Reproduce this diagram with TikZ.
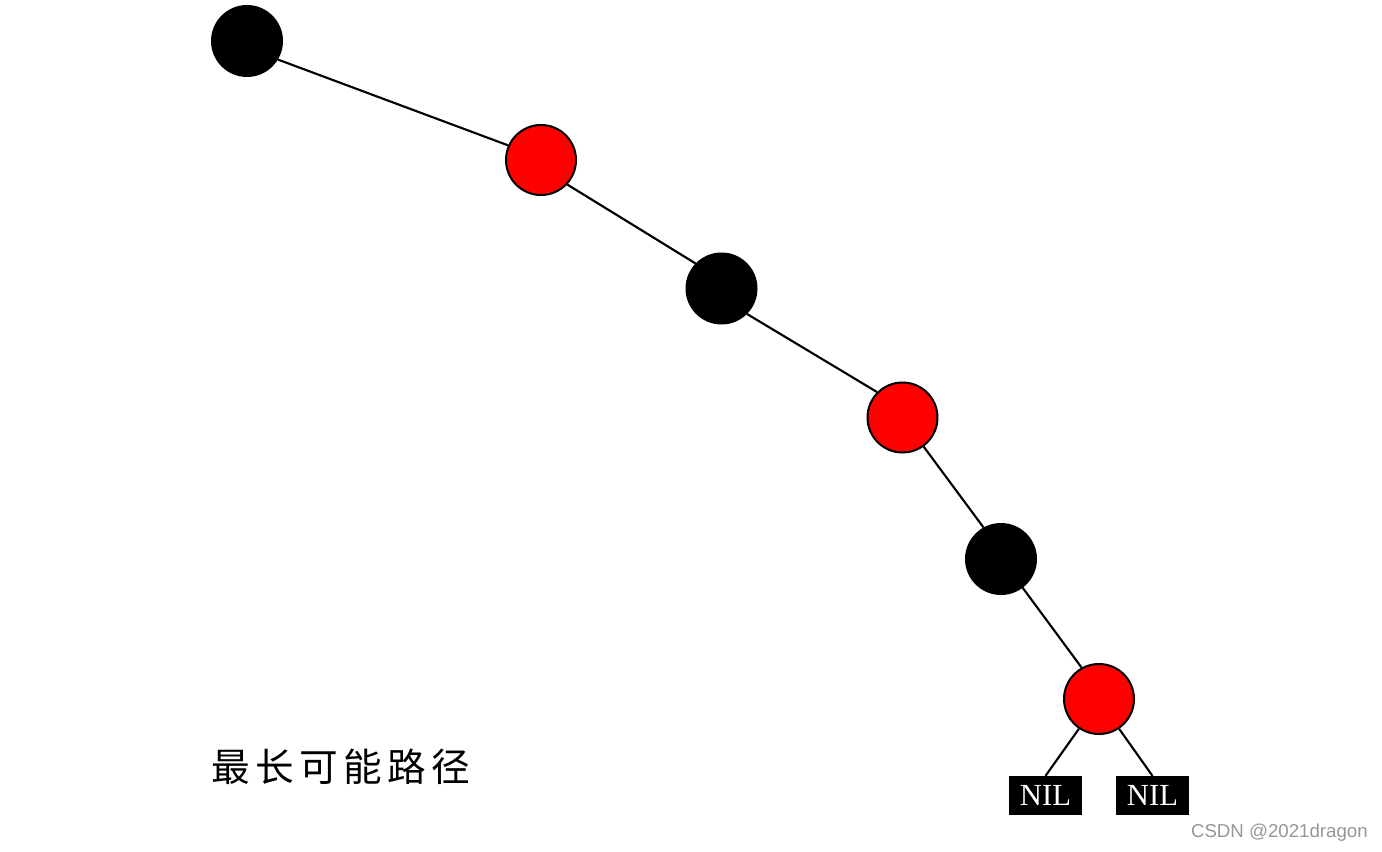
\documentclass[tikz,border=0pt]{standalone}
\usepackage{fontspec}
\setmainfont{Liberation Serif}
\newfontfamily\cjkfont[LetterSpace=14]{Noto Sans CJK SC}
\newfontfamily\wmfont{Liberation Sans}
\definecolor{rbred}{RGB}{255,0,0}
\definecolor{wmgray}{RGB}{150,150,150}
\begin{document}
\begin{tikzpicture}[x=0.75pt,y=-0.75pt,
  blacknode/.style={circle,fill=black,draw=black,line width=1.5pt,minimum size=52.5pt,inner sep=0pt},
  rednode/.style={circle,fill=rbred,draw=black,line width=1.5pt,minimum size=52.5pt,inner sep=0pt},
  nilbox/.style={rectangle,fill=black,text=white,minimum width=54.75pt,minimum height=29pt,inner sep=0pt,font=\fontsize{23}{23}\selectfont},
  edge/.style={line width=1.6pt,draw=black}]
\useasboundingbox (0,0) rectangle (1382,852);
\node[blacknode] (n1) at (247,41) {};
\node[rednode] (n2) at (541,160) {};
\node[blacknode] (n3) at (721.5,288.5) {};
\node[rednode] (n4) at (902.5,417.5) {};
\node[blacknode] (n5) at (1001,559) {};
\node[rednode] (n6) at (1099,699) {};
\node[nilbox] (nil1) at (1045.5,795.5) {NIL};
\node[nilbox] (nil2) at (1152.5,795.5) {NIL};
\draw[edge] (n1.-31.5) -- (n2.156);
\draw[edge] (n2.-43) -- (n3.136);
\draw[edge] (n3.-45) -- (n4.135.5);
\draw[edge] (n4.-54) -- (n5.119.5);
\draw[edge] (n5.-53) -- (n6.119.5);
\draw[edge] (n6.-124) -- (nil1.north);
\draw[edge] (n6.-56.5) -- (nil2.north);
\node[anchor=west,inner sep=0pt,font=\cjkfont\fontsize{29}{29}\selectfont] (label) at (211,767) {最长可能路径};
\node[anchor=east,inner sep=0pt,text=wmgray,font=\wmfont\fontsize{14}{14}\selectfont] (wm) at (1368,833) {CSDN @2021dragon};
\end{tikzpicture}
\end{document}
